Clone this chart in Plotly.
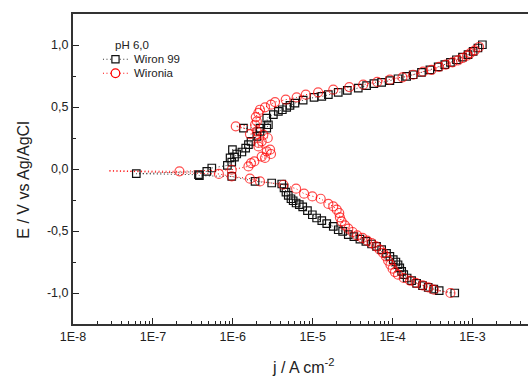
import plotly.graph_objects as go

# Wiron 99 (black squares): current density (A/cm2) and potential (V vs Ag/AgCl), in scan order
wiron_j = [6.0e-4, 3.83e-4, 3.28e-4, 2.79e-4, 2.37e-4, 2.0e-4, 1.73e-4, 1.52e-4, 1.38e-4, 1.30e-4,
           1.23e-4, 1.17e-4, 1.10e-4, 1.02e-4, 9.25e-5, 8.4e-5, 7.3e-5, 6.3e-5, 5.46e-5, 4.63e-5,
           3.9e-5, 3.28e-5, 2.79e-5, 2.37e-5, 2.09e-5, 1.81e-5, 1.50e-5, 1.30e-5, 1.12e-5, 9.9e-6,
           8.6e-6, 7.5e-6, 6.8e-6, 6.2e-6, 5.7e-6, 5.35e-6, 4.95e-6, 4.63e-6, 4.38e-6, 4.1e-6,
           3.07e-6, 1.9e-6, 9.7e-7, 3.82e-7, 3.72e-7, 6.2e-8, 4.73e-7, 5.46e-7, 8.56e-7, 9.7e-7,
           9.25e-7, 1.05e-6, 1.12e-6, 1.30e-6, 9.9e-7, 1.45e-6, 1.57e-6, 1.69e-6, 2.0e-6, 2.19e-6,
           1.36e-6, 2.19e-6, 2.66e-6, 2.79e-6, 2.66e-6, 3.22e-6, 3.72e-6, 4.17e-6, 4.73e-6, 5.2e-6,
           6.0e-6, 7.6e-6, 1.04e-5, 1.30e-5, 1.57e-5, 2.09e-5, 2.71e-5, 3.72e-5, 4.73e-5, 5.83e-5,
           7.3e-5, 9.25e-5, 1.17e-4, 1.50e-4, 1.81e-4, 2.30e-4, 2.93e-4, 3.72e-4, 4.5e-4, 5.3e-4,
           6.3e-4, 7.5e-4, 8.8e-4, 1.02e-3, 1.17e-3, 1.33e-3]
wiron_E = [-1.000, -0.981, -0.968, -0.955, -0.941, -0.922, -0.900, -0.879, -0.852, -0.826,
           -0.798, -0.772, -0.750, -0.731, -0.705, -0.681, -0.651, -0.624, -0.605, -0.584,
           -0.565, -0.546, -0.530, -0.503, -0.490, -0.463, -0.441, -0.417, -0.395, -0.369,
           -0.336, -0.306, -0.288, -0.274, -0.256, -0.240, -0.213, -0.186, -0.153, -0.121,
           -0.113, -0.100, -0.060, -0.054, -0.046, -0.038, -0.019, 0.008, 0.029, 0.056,
           0.089, 0.095, 0.121, 0.137, 0.156, 0.169, 0.196, 0.223, 0.263, 0.303,
           0.330, 0.330, 0.330, 0.357, 0.411, 0.438, 0.465, 0.478, 0.497, 0.513,
           0.532, 0.555, 0.577, 0.585, 0.599, 0.618, 0.634, 0.653, 0.672, 0.688,
           0.698, 0.712, 0.728, 0.747, 0.760, 0.779, 0.800, 0.823, 0.841, 0.860,
           0.881, 0.903, 0.922, 0.948, 0.976, 1.002]

# Wironia (red circles)
wironia_j = [5.3e-4, 3.28e-4, 2.79e-4, 2.37e-4, 1.95e-4, 1.65e-4, 1.38e-4, 1.17e-4, 1.07e-4, 1.0e-4,
             9.4e-5, 8.8e-5, 8.25e-5, 7.6e-5, 6.9e-5, 6.2e-5, 5.46e-5, 4.8e-5, 4.2e-5, 3.6e-5,
             3.16e-5, 2.79e-5, 2.53e-5, 2.3e-5, 2.19e-5, 2.15e-5, 2.0e-5, 1.81e-5, 1.57e-5, 1.26e-5,
             9.9e-6, 7.8e-6, 6.2e-6, 4.3e-6, 2.19e-6, 1.64e-6, 9.7e-7, 6.7e-7, 2.76e-8, 2.15e-7,
             9.7e-7, 1.57e-6, 1.69e-6, 1.86e-6, 2.53e-6, 2.3e-6, 3.01e-6, 2.66e-6, 2.93e-6, 2.09e-6,
             2.09e-6, 2.3e-6, 2.74e-6, 2.41e-6, 1.64e-6, 2.0e-6, 1.09e-6, 1.9e-6, 2.0e-6, 1.94e-6,
             2.09e-6, 2.19e-6, 2.53e-6, 3.01e-6, 3.38e-6, 4.6e-6, 6.3e-6, 8.2e-6, 1.17e-5, 1.81e-5,
             2.87e-5, 4.29e-5, 6.42e-5, 9.25e-5, 1.33e-4, 1.81e-4, 2.41e-4, 3.07e-4, 3.82e-4, 4.63e-4,
             5.62e-4, 6.6e-4, 7.5e-4, 8.56e-4, 9.4e-4, 1.07e-3, 1.21e-3]
wironia_E = [-1.000, -0.973, -0.955, -0.939, -0.919, -0.900, -0.879, -0.852, -0.831, -0.804,
             -0.772, -0.740, -0.705, -0.677, -0.651, -0.624, -0.597, -0.578, -0.556, -0.535,
             -0.508, -0.481, -0.455, -0.422, -0.390, -0.355, -0.328, -0.302, -0.282, -0.240,
             -0.221, -0.199, -0.159, -0.127, -0.100, -0.078, -0.060, -0.040, -0.015, -0.019,
             -0.006, 0.021, 0.048, 0.061, 0.089, 0.100, 0.121, 0.142, 0.156, 0.182,
             0.210, 0.223, 0.250, 0.277, 0.282, 0.303, 0.344, 0.357, 0.384, 0.419,
             0.452, 0.478, 0.497, 0.519, 0.540, 0.559, 0.577, 0.599, 0.618, 0.640,
             0.661, 0.680, 0.702, 0.720, 0.739, 0.760, 0.785, 0.800, 0.823, 0.841,
             0.860, 0.876, 0.895, 0.914, 0.935, 0.957, 0.984]

series_names = ["Wiron 99", "Wironia"]
legend_title = "pH 6,0"
x_tick_vals = [1e-8, 1e-7, 1e-6, 1e-5, 1e-4, 1e-3]
x_tick_text = ["1E-8", "1E-7", "1E-6", "1E-5", "1E-4", "1E-3"]
y_tick_vals = [-1.0, -0.5, 0.0, 0.5, 1.0]
y_tick_text = ["-1,0", "-0,5", "0,0", "0,5", "1,0"]

FONT = "Liberation Sans, Arial, sans-serif"
TXT = "#222222"
BLACK = "#111111"
RED = "#ff0000"
DOT = "1px,2.5px"

# plot-area geometry in pixels (for placing the legend / titles)
L, R, T, B = 72.7, 528.0, 14.0, 324.3
PW, PH = R - L, B - T


def px(xp):
    return (xp - L) / PW


def py(yp):
    return 1 - (yp - T) / PH


x_minor = [m * 10.0 ** e for e in range(-8, -2) for m in range(2, 10)]
y_minor = [-0.75, -0.25, 0.25, 0.75]

red_sizes = [0 if j < 1e-7 else 9 for j in wironia_j]

fig = go.Figure()
fig.add_trace(go.Scatter(
    x=wiron_j, y=wiron_E, name=series_names[0], mode="lines+markers", showlegend=False,
    line=dict(color="#333333", width=1, dash=DOT),
    marker=dict(symbol="square-open", size=7.5, color=BLACK, line=dict(width=1.2)),
))
fig.add_trace(go.Scatter(
    x=wironia_j, y=wironia_E, name=series_names[1], mode="lines+markers", showlegend=False,
    line=dict(color=RED, width=1, dash=DOT),
    marker=dict(symbol="circle-open", size=red_sizes, color=RED, line=dict(width=1.2)),
))

# manual legend (compact, like the original)
shapes = []
annotations = []
legend_rows = [(59.3, BLACK, "#333333", "rect", 3.6), (73.3, RED, RED, "circle", 4.3)]
for (yc, mcol, lcol, kind, half), name in zip(legend_rows, series_names):
    for x0, x1 in [(102.7, 111.0), (119.5, 128.3)]:
        shapes.append(dict(type="line", xref="paper", yref="paper",
                           x0=px(x0), x1=px(x1), y0=py(yc), y1=py(yc),
                           line=dict(color=lcol, width=1, dash=DOT)))
    shapes.append(dict(type=kind, xref="paper", yref="paper",
                       x0=px(115.2 - half), x1=px(115.2 + half),
                       y0=py(yc + half), y1=py(yc - half),
                       line=dict(color=mcol, width=1.2), fillcolor="rgba(0,0,0,0)"))
    annotations.append(dict(text=name, xref="paper", yref="paper", x=px(131.5), y=py(yc),
                            xanchor="left", yanchor="middle", showarrow=False,
                            font=dict(family=FONT, size=11.5, color=TXT)))

annotations += [
    dict(text=legend_title, xref="paper", yref="paper", x=px(112.5), y=py(45),
         xanchor="left", yanchor="middle", showarrow=False,
         font=dict(family=FONT, size=11.5, color=TXT)),
    dict(text="E / V vs Ag/AgCl", xref="paper", yref="paper",
         x=px(23), y=py(180.5), textangle=-90,
         xanchor="center", yanchor="middle", showarrow=False,
         font=dict(family=FONT, size=16, color=TXT)),
    dict(text="j / A cm<sup>-2</sup>", xref="paper", yref="paper",
         x=px(303), y=py(366),
         xanchor="center", yanchor="middle", showarrow=False,
         font=dict(family=FONT, size=16, color=TXT)),
]

fig.update_layout(
    width=528, height=376,
    margin=dict(l=L, r=0, t=T, b=376 - B),
    paper_bgcolor="white", plot_bgcolor="white",
    font=dict(family=FONT, color=TXT, size=12),
    showlegend=False,
    shapes=shapes,
    annotations=annotations,
    xaxis=dict(type="log", range=[-8, -2.305],
               tickmode="array", tickvals=x_tick_vals, ticktext=x_tick_text,
               ticks="inside", ticklen=6, tickwidth=1.3, tickcolor=TXT,
               minor=dict(tickmode="array", tickvals=x_minor, ticks="inside",
                          ticklen=3, tickwidth=1.3, tickcolor=TXT, showgrid=False),
               showline=True, linewidth=2, linecolor="#333333", mirror=True,
               showgrid=False, zeroline=False,
               tickfont=dict(family=FONT, size=12.5, color=TXT)),
    yaxis=dict(range=[-1.25, 1.25],
               tickmode="array", tickvals=y_tick_vals, ticktext=y_tick_text,
               ticks="inside", ticklen=6, tickwidth=1.3, tickcolor=TXT,
               minor=dict(tickmode="array", tickvals=y_minor, ticks="inside",
                          ticklen=3, tickwidth=1.3, tickcolor=TXT, showgrid=False),
               showline=True, linewidth=2, linecolor="#333333", mirror=False,
               showgrid=False, zeroline=False,
               tickfont=dict(family=FONT, size=12.5, color=TXT)),
)

fig.write_html("out.html")
